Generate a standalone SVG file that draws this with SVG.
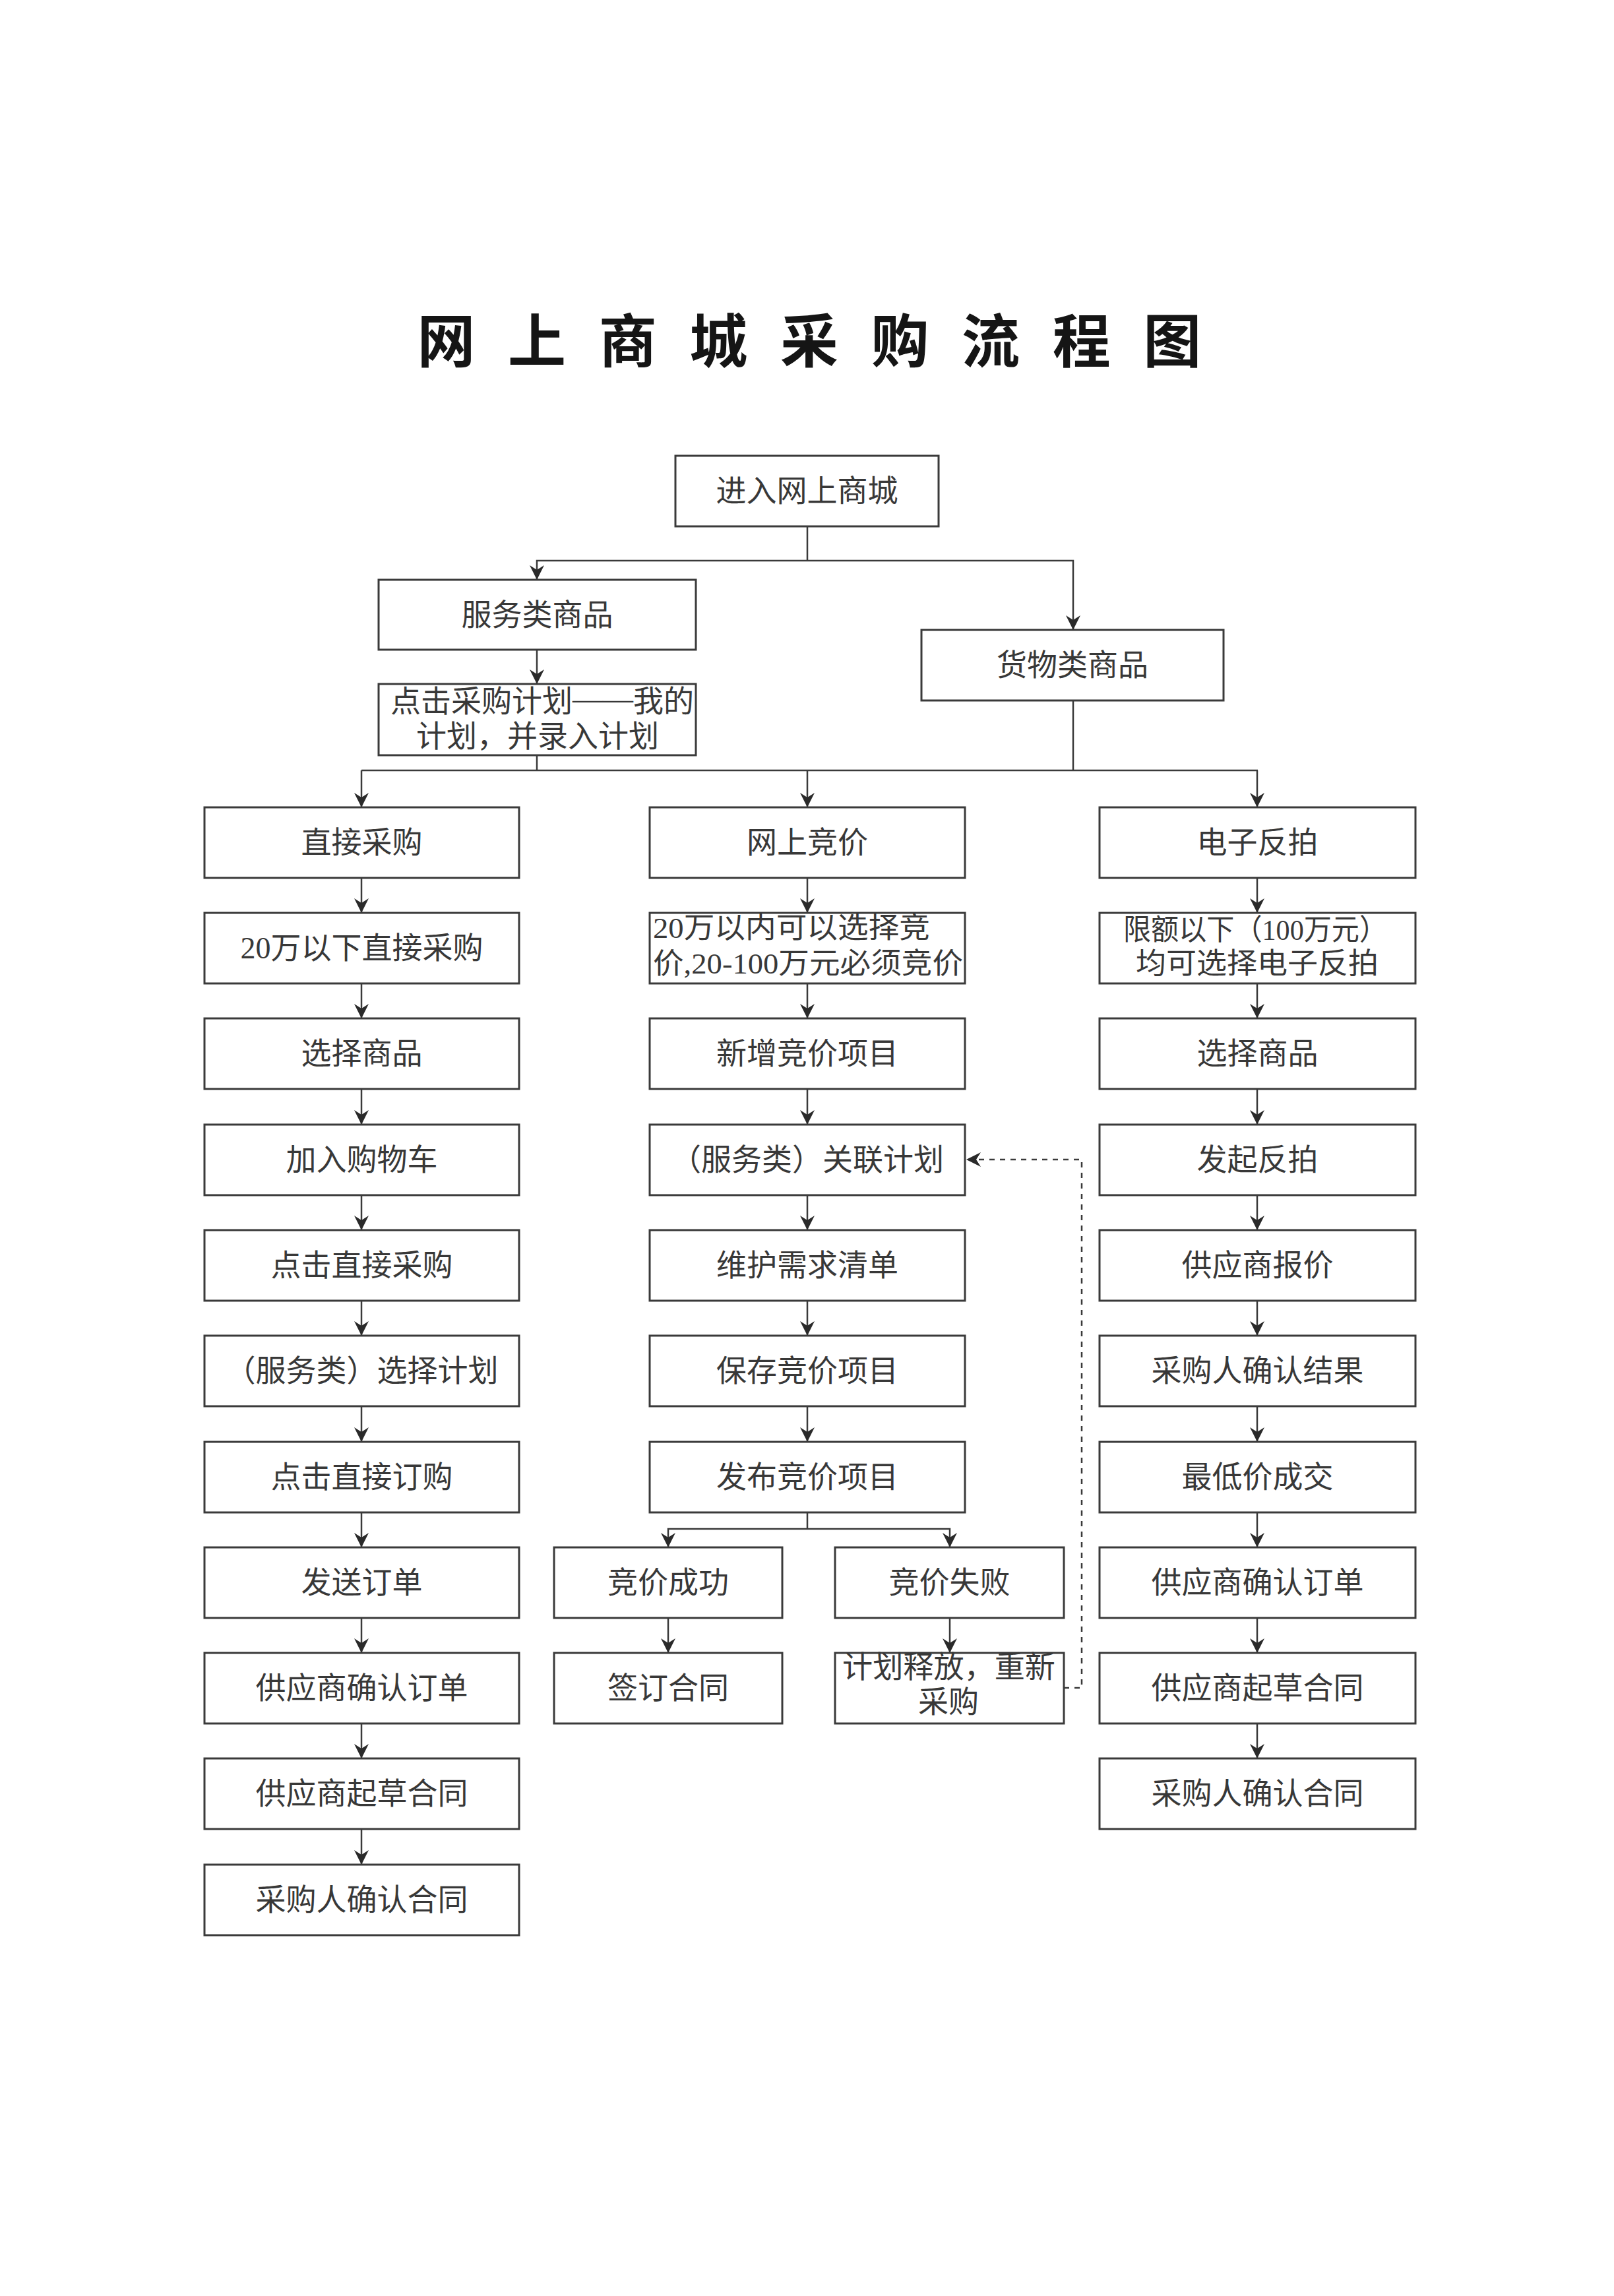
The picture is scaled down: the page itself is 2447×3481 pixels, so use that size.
<svg xmlns="http://www.w3.org/2000/svg" width="2447" height="3481" viewBox="0 0 2447 3481">
<style>
.bg{fill:#ffffff}
.box{fill:none;stroke:#3a3a3a;stroke-width:3}
.t{font-family:"Liberation Serif","Noto Sans CJK SC",serif;font-size:46px;fill:#383838;text-anchor:middle;dominant-baseline:central}
.t2{font-family:"Liberation Serif","Noto Sans CJK SC",serif;font-size:44px;fill:#383838;dominant-baseline:central}
.tc{font-family:"Liberation Serif","Noto Sans CJK SC",serif;font-size:46px;fill:#383838;dominant-baseline:central}
.title{font-family:"Noto Sans CJK SC",sans-serif;font-size:88px;font-weight:bold;fill:#151515;text-anchor:middle;dominant-baseline:central}
.ln{fill:none;stroke:#3a3a3a;stroke-width:2.5}
.dash{fill:none;stroke:#3a3a3a;stroke-width:2.5;stroke-dasharray:8 8}
</style>
<defs>
<marker id="ah" viewBox="-24 -12 26 24" refX="0" refY="0" markerWidth="26" markerHeight="24" markerUnits="userSpaceOnUse" orient="auto">
<path d="M0,0 L-22,-11 L-15,0 L-22,11 Z" fill="#2a2a2a"/>
</marker>
</defs>
<rect class="bg" x="0" y="0" width="2447" height="3481"/>
<g id="title">
<text class="title" x="676.5 745.3 814.1 882.9 951.7 1020.5 1089.3 1158.1 1226.9 1295.7 1364.5 1433.3 1502.1 1570.9 1639.7 1708.5 1777.3" y="510">网 上 商 城 采 购 流 程 图</text>
</g>
<g id="connectors">
<path class="ln" d="M1224,798 V850"/>
<path class="ln" d="M1224,850 H814 V879" marker-end="url(#ah)"/>
<path class="ln" d="M1224,850 H1627 V955" marker-end="url(#ah)"/>
<path class="ln" d="M814,985 V1037" marker-end="url(#ah)"/>
<path class="ln" d="M814,1145 V1168"/>
<path class="ln" d="M1627,1062 V1168"/>
<path class="ln" d="M548,1168 H1907"/>
<path class="ln" d="M548,1168 V1224" marker-end="url(#ah)"/>
<path class="ln" d="M1224,1168 V1224" marker-end="url(#ah)"/>
<path class="ln" d="M1906,1168 V1224" marker-end="url(#ah)"/>
<!-- left column -->
<path class="ln" d="M548,1331 V1384" marker-end="url(#ah)"/>
<path class="ln" d="M548,1491 V1544" marker-end="url(#ah)"/>
<path class="ln" d="M548,1651 V1705" marker-end="url(#ah)"/>
<path class="ln" d="M548,1812 V1865" marker-end="url(#ah)"/>
<path class="ln" d="M548,1972 V2025" marker-end="url(#ah)"/>
<path class="ln" d="M548,2132 V2186" marker-end="url(#ah)"/>
<path class="ln" d="M548,2293 V2346" marker-end="url(#ah)"/>
<path class="ln" d="M548,2453 V2506" marker-end="url(#ah)"/>
<path class="ln" d="M548,2613 V2666" marker-end="url(#ah)"/>
<path class="ln" d="M548,2773 V2827" marker-end="url(#ah)"/>
<!-- middle column -->
<path class="ln" d="M1224,1331 V1384" marker-end="url(#ah)"/>
<path class="ln" d="M1224,1491 V1544" marker-end="url(#ah)"/>
<path class="ln" d="M1224,1651 V1705" marker-end="url(#ah)"/>
<path class="ln" d="M1224,1812 V1865" marker-end="url(#ah)"/>
<path class="ln" d="M1224,1972 V2025" marker-end="url(#ah)"/>
<path class="ln" d="M1224,2132 V2186" marker-end="url(#ah)"/>
<path class="ln" d="M1224,2293 V2318"/>
<path class="ln" d="M1224,2318 H1013 V2346" marker-end="url(#ah)"/>
<path class="ln" d="M1224,2318 H1440 V2346" marker-end="url(#ah)"/>
<path class="ln" d="M1013,2453 V2506" marker-end="url(#ah)"/>
<path class="ln" d="M1440,2453 V2506" marker-end="url(#ah)"/>
<path class="dash" d="M1613,2559 H1640 V1758 H1465" marker-end="url(#ah)"/>
<!-- right column -->
<path class="ln" d="M1906,1331 V1384" marker-end="url(#ah)"/>
<path class="ln" d="M1906,1491 V1544" marker-end="url(#ah)"/>
<path class="ln" d="M1906,1651 V1705" marker-end="url(#ah)"/>
<path class="ln" d="M1906,1812 V1865" marker-end="url(#ah)"/>
<path class="ln" d="M1906,1972 V2025" marker-end="url(#ah)"/>
<path class="ln" d="M1906,2132 V2186" marker-end="url(#ah)"/>
<path class="ln" d="M1906,2293 V2346" marker-end="url(#ah)"/>
<path class="ln" d="M1906,2453 V2506" marker-end="url(#ah)"/>
<path class="ln" d="M1906,2613 V2666" marker-end="url(#ah)"/>
</g>
<g id="n_enter"><rect class="box" x="1024" y="691" width="399" height="107"/><text class="t" x="1223.5" y="744.5">进入网上商城</text></g>
<g id="n_service"><rect class="box" x="574" y="879" width="481" height="106"/><text class="t" x="814.5" y="932">服务类商品</text></g>
<g id="n_goods"><rect class="box" x="1397" y="955" width="458" height="107"/><text class="t" x="1626" y="1008.5">货物类商品</text></g>
<g id="n_plan"><rect class="box" x="574" y="1037" width="481" height="108"/><text class="tc" x="592" y="1063">点击采购计划<tspan dy="-4">——</tspan><tspan dy="4">我的</tspan></text><text class="tc" x="815" y="1116" text-anchor="middle">计划，并录入计划</text></g>
<!-- left column -->
<g id="l1"><rect class="box" x="310" y="1224" width="477" height="107"/><text class="t" x="548.5" y="1277.5">直接采购</text></g>
<g id="l2"><rect class="box" x="310" y="1384" width="477" height="107"/><text class="t" x="548.5" y="1437.5">20万以下直接采购</text></g>
<g id="l3"><rect class="box" x="310" y="1544" width="477" height="107"/><text class="t" x="548.5" y="1597.5">选择商品</text></g>
<g id="l4"><rect class="box" x="310" y="1705" width="477" height="107"/><text class="t" x="548.5" y="1758.5">加入购物车</text></g>
<g id="l5"><rect class="box" x="310" y="1865" width="477" height="107"/><text class="t" x="548.5" y="1918.5">点击直接采购</text></g>
<g id="l6"><rect class="box" x="310" y="2025" width="477" height="107"/><text class="t" x="548.5" y="2078.5">（服务类）选择计划</text></g>
<g id="l7"><rect class="box" x="310" y="2186" width="477" height="107"/><text class="t" x="548.5" y="2239.5">点击直接订购</text></g>
<g id="l8"><rect class="box" x="310" y="2346" width="477" height="107"/><text class="t" x="548.5" y="2399.5">发送订单</text></g>
<g id="l9"><rect class="box" x="310" y="2506" width="477" height="107"/><text class="t" x="548.5" y="2559.5">供应商确认订单</text></g>
<g id="l10"><rect class="box" x="310" y="2666" width="477" height="107"/><text class="t" x="548.5" y="2719.5">供应商起草合同</text></g>
<g id="l11"><rect class="box" x="310" y="2827" width="477" height="107"/><text class="t" x="548.5" y="2880.5">采购人确认合同</text></g>
<!-- middle column -->
<g id="m1"><rect class="box" x="985" y="1224" width="478" height="107"/><text class="t" x="1224" y="1277.5">网上竞价</text></g>
<g id="m2"><rect class="box" x="985" y="1384" width="478" height="107"/><text class="t2" x="990" y="1407" textLength="420" lengthAdjust="spacingAndGlyphs">20万以内可以选择竞</text><text class="t2" x="990" y="1461" textLength="470" lengthAdjust="spacingAndGlyphs">价,20-100万元必须竞价</text></g>
<g id="m3"><rect class="box" x="985" y="1544" width="478" height="107"/><text class="t" x="1224" y="1597.5">新增竞价项目</text></g>
<g id="m4"><rect class="box" x="985" y="1705" width="478" height="107"/><text class="t" x="1224" y="1758.5">（服务类）关联计划</text></g>
<g id="m5"><rect class="box" x="985" y="1865" width="478" height="107"/><text class="t" x="1224" y="1918.5">维护需求清单</text></g>
<g id="m6"><rect class="box" x="985" y="2025" width="478" height="107"/><text class="t" x="1224" y="2078.5">保存竞价项目</text></g>
<g id="m7"><rect class="box" x="985" y="2186" width="478" height="107"/><text class="t" x="1224" y="2239.5">发布竞价项目</text></g>
<g id="m8a"><rect class="box" x="840" y="2346" width="346" height="107"/><text class="t" x="1013" y="2399.5">竞价成功</text></g>
<g id="m8b"><rect class="box" x="1266" y="2346" width="347" height="107"/><text class="t" x="1439.5" y="2399.5">竞价失败</text></g>
<g id="m9a"><rect class="box" x="840" y="2506" width="346" height="107"/><text class="t" x="1013" y="2559.5">签订合同</text></g>
<g id="m9b"><rect class="box" x="1266" y="2506" width="347" height="107"/><text class="tc" x="1277" y="2527" textLength="323" lengthAdjust="spacingAndGlyphs">计划释放，重新</text><text class="tc" x="1438" y="2580" text-anchor="middle">采购</text></g>
<!-- right column -->
<g id="r1"><rect class="box" x="1667" y="1224" width="479" height="107"/><text class="t" x="1906.5" y="1277.5">电子反拍</text></g>
<g id="r2"><rect class="box" x="1667" y="1384" width="479" height="107"/><text class="t2" x="1703" y="1410" textLength="400" lengthAdjust="spacingAndGlyphs">限额以下（100万元）</text><text class="t2" x="1722" y="1461" textLength="368" lengthAdjust="spacingAndGlyphs">均可选择电子反拍</text></g>
<g id="r3"><rect class="box" x="1667" y="1544" width="479" height="107"/><text class="t" x="1906.5" y="1597.5">选择商品</text></g>
<g id="r4"><rect class="box" x="1667" y="1705" width="479" height="107"/><text class="t" x="1906.5" y="1758.5">发起反拍</text></g>
<g id="r5"><rect class="box" x="1667" y="1865" width="479" height="107"/><text class="t" x="1906.5" y="1918.5">供应商报价</text></g>
<g id="r6"><rect class="box" x="1667" y="2025" width="479" height="107"/><text class="t" x="1906.5" y="2078.5">采购人确认结果</text></g>
<g id="r7"><rect class="box" x="1667" y="2186" width="479" height="107"/><text class="t" x="1906.5" y="2239.5">最低价成交</text></g>
<g id="r8"><rect class="box" x="1667" y="2346" width="479" height="107"/><text class="t" x="1906.5" y="2399.5">供应商确认订单</text></g>
<g id="r9"><rect class="box" x="1667" y="2506" width="479" height="107"/><text class="t" x="1906.5" y="2559.5">供应商起草合同</text></g>
<g id="r10"><rect class="box" x="1667" y="2666" width="479" height="107"/><text class="t" x="1906.5" y="2719.5">采购人确认合同</text></g>
</svg>
